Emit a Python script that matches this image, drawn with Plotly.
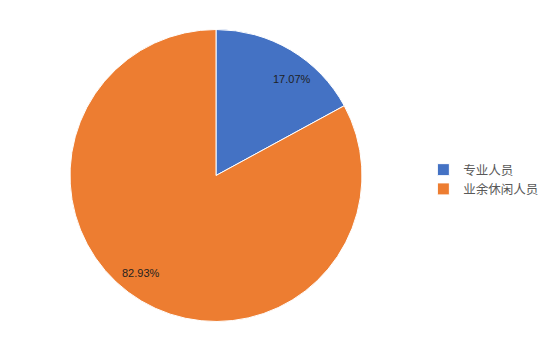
import plotly.graph_objects as go

categories = ["专业人员", "业余休闲人员"]
values = [17.07, 82.93]
colors = ["#4472C4", "#ED7D31"]
label_pos = [(0.535, 0.776), (0.258, 0.225)]

fig = go.Figure(go.Pie(
    labels=categories,
    values=values,
    sort=False,
    direction="clockwise",
    rotation=0,
    marker=dict(colors=colors, line=dict(color="white", width=1)),
    textinfo="none",
    hoverinfo="label+percent",
    domain=dict(x=[70/546, 362/546], y=[1-322/352, 1-29/352]),
))

for v, (x, y) in zip(values, label_pos):
    fig.add_annotation(x=x, y=y, xref="paper", yref="paper",
                       xanchor="center", yanchor="middle",
                       text=f"{v:.2f}%", showarrow=False,
                       font=dict(size=11, color="#1f1f1f", family="Liberation Sans, Arial"))

fig.update_layout(
    width=546, height=352,
    margin=dict(l=0, r=0, t=0, b=0),
    paper_bgcolor="white",
    plot_bgcolor="white",
    showlegend=True,
    legend=dict(x=0.997, y=0.49, xanchor="right", yanchor="middle",
                font=dict(size=12.5, color="#595959", family="Noto Sans CJK SC"),
                itemwidth=30),
)

fig.write_html("out.html")
